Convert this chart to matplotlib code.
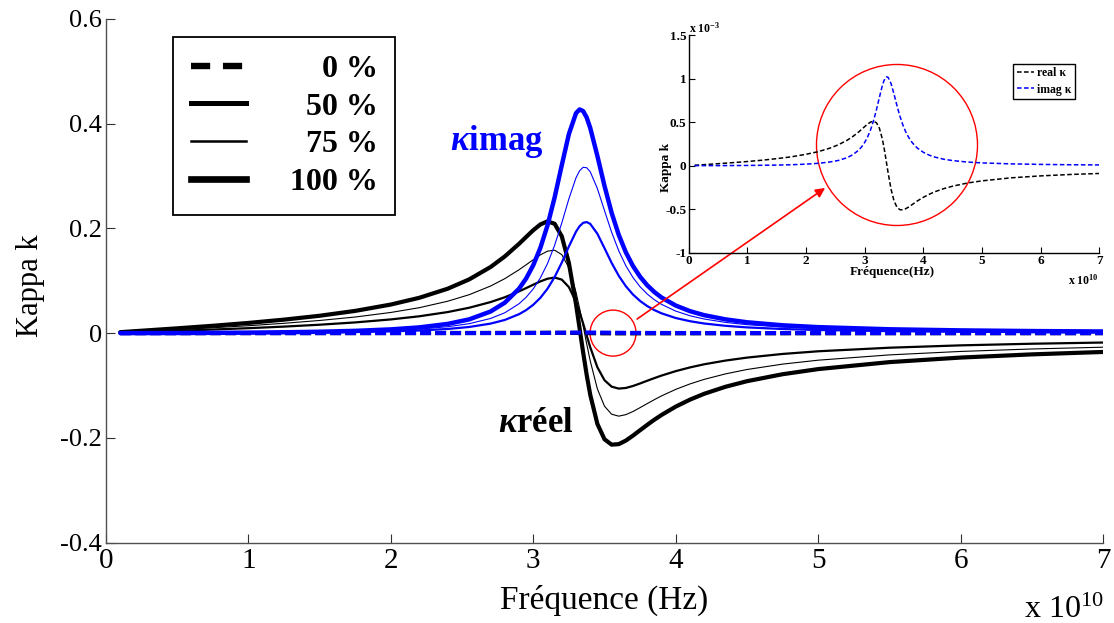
import matplotlib
matplotlib.use('Agg')
import matplotlib.pyplot as plt
from matplotlib.lines import Line2D
from matplotlib.patches import Ellipse

plt.rcParams['font.family'] = ['Liberation Serif', 'DejaVu Serif']
plt.rcParams['mathtext.fontset'] = 'custom'
plt.rcParams['mathtext.rm'] = 'Liberation Serif'
plt.rcParams['mathtext.it'] = 'Liberation Serif:italic:bold'
plt.rcParams['mathtext.bf'] = 'Liberation Serif:bold'

# ---------------- data (frequency in units of 1e10 Hz) ----------------
freq = [0.1, 0.5, 0.75, 1.0, 1.25, 1.5, 1.75, 2.0, 2.2, 2.4, 2.55, 2.7, 2.8, 2.9,
        2.95, 3.0, 3.05, 3.1, 3.15, 3.2, 3.25, 3.3, 3.325, 3.35, 3.375, 3.4, 3.45,
        3.5, 3.55, 3.6, 3.65, 3.7, 3.75, 3.8, 3.85, 3.9, 4.0, 4.1, 4.2, 4.35, 4.5,
        4.75, 5.0, 5.5, 6.0, 6.5, 7.0]

# 0 % (values in units of 1e-3)
re0 = [0.004, 0.022, 0.034, 0.047, 0.062, 0.080, 0.101, 0.130, 0.159, 0.199, 0.239,
       0.291, 0.335, 0.388, 0.418, 0.448, 0.477, 0.500, 0.510, 0.493, 0.432, 0.309,
       0.224, 0.126, 0.021, -0.084, -0.272, -0.404, -0.477, -0.506, -0.508, -0.495,
       -0.475, -0.452, -0.428, -0.405, -0.364, -0.329, -0.299, -0.264, -0.236,
       -0.200, -0.175, -0.140, -0.118, -0.102, -0.090]
im0 = [0.000, 0.000, 0.001, 0.002, 0.004, 0.006, 0.010, 0.017, 0.026, 0.041, 0.059,
       0.091, 0.126, 0.179, 0.217, 0.266, 0.329, 0.410, 0.513, 0.640, 0.781, 0.916,
       0.968, 1.004, 1.020, 1.013, 0.942, 0.822, 0.690, 0.570, 0.469, 0.388, 0.324,
       0.273, 0.233, 0.200, 0.153, 0.120, 0.097, 0.073, 0.058, 0.041, 0.031, 0.020,
       0.014, 0.010, 0.008]

# 50 %
re50 = [0.0009, 0.0044, 0.0068, 0.0094, 0.0124, 0.0160, 0.0204, 0.0261, 0.0321,
        0.0402, 0.0484, 0.0592, 0.0684, 0.0796, 0.0859, 0.0924, 0.0987, 0.1038,
        0.1060, 0.1021, 0.0878, 0.0596, 0.0402, 0.0184, -0.0046, -0.0271, -0.0652,
        -0.0899, -0.1022, -0.1059, -0.1047, -0.1009, -0.0961, -0.0909, -0.0859,
        -0.0811, -0.0726, -0.0655, -0.0595, -0.0524, -0.0468, -0.0398, -0.0347,
        -0.0279, -0.0234, -0.0203, -0.0180]
im50 = [0.0000, 0.0001, 0.0002, 0.0004, 0.0007, 0.0012, 0.0020, 0.0033, 0.0050,
        0.0079, 0.0117, 0.0181, 0.0251, 0.0361, 0.0439, 0.0541, 0.0674, 0.0848,
        0.1071, 0.1345, 0.1653, 0.1936, 0.2040, 0.2104, 0.2119, 0.2084, 0.1896,
        0.1621, 0.1340, 0.1094, 0.0894, 0.0736, 0.0613, 0.0516, 0.0439, 0.0378,
        0.0288, 0.0227, 0.0183, 0.0139, 0.0109, 0.0078, 0.0059, 0.0037, 0.0026,
        0.0020, 0.0015]

# 75 %
re75 = [0.0013, 0.0066, 0.0102, 0.0141, 0.0187, 0.0241, 0.0307, 0.0394, 0.0485,
        0.0609, 0.0733, 0.0898, 0.1039, 0.1209, 0.1304, 0.1401, 0.1493, 0.1564,
        0.1582, 0.1498, 0.1247, 0.0780, 0.0474, 0.0138, -0.0205, -0.0532, -0.1065,
        -0.1395, -0.1548, -0.1585, -0.1556, -0.1496, -0.1422, -0.1345, -0.1270,
        -0.1199, -0.1074, -0.0970, -0.0883, -0.0778, -0.0695, -0.0592, -0.0517,
        -0.0416, -0.0350, -0.0303, -0.0269]
im75 = [0.0000, 0.0001, 0.0003, 0.0006, 0.0011, 0.0018, 0.0030, 0.0050, 0.0076,
        0.0122, 0.0180, 0.0279, 0.0388, 0.0560, 0.0684, 0.0845, 0.1055, 0.1328,
        0.1677, 0.2101, 0.2563, 0.2964, 0.3097, 0.3164, 0.3156, 0.3078, 0.2758,
        0.2338, 0.1925, 0.1571, 0.1285, 0.1060, 0.0884, 0.0746, 0.0637, 0.0549,
        0.0420, 0.0331, 0.0269, 0.0204, 0.0161, 0.0115, 0.0087, 0.0055, 0.0039,
        0.0029, 0.0023]

# 100 %
re100 = [0.0018, 0.0091, 0.0140, 0.0194, 0.0257, 0.0331, 0.0424, 0.0545, 0.0674,
         0.0848, 0.1025, 0.1261, 0.1463, 0.1704, 0.1835, 0.1964, 0.2074, 0.2133,
         0.2086, 0.1848, 0.1338, 0.0550, 0.0093, -0.0367, -0.0800, -0.1179, -0.1733,
         -0.2026, -0.2129, -0.2119, -0.2051, -0.1956, -0.1853, -0.1751, -0.1653,
         -0.1563, -0.1403, -0.1270, -0.1158, -0.1024, -0.0918, -0.0785, -0.0687,
         -0.0554, -0.0467, -0.0406, -0.0360]
im100 = [0.0000, 0.0002, 0.0005, 0.0009, 0.0016, 0.0026, 0.0043, 0.0071, 0.0109,
         0.0176, 0.0262, 0.0412, 0.0580, 0.0848, 0.1043, 0.1297, 0.1629, 0.2057,
         0.2591, 0.3204, 0.3799, 0.4197, 0.4268, 0.4237, 0.4114, 0.3914, 0.3381,
         0.2809, 0.2296, 0.1875, 0.1541, 0.1280, 0.1075, 0.0913, 0.0784, 0.0680,
         0.0526, 0.0419, 0.0342, 0.0262, 0.0207, 0.0149, 0.0114, 0.0073, 0.0052,
         0.0039, 0.0031]

legend_labels = ['\u2007\u20070 %', '\u200750 %', '\u200775 %', '100 %']
x_ticks = [0, 1, 2, 3, 4, 5, 6, 7]
x_tick_labels = ['0', '1', '2', '3', '4', '5', '6', '7']
y_ticks = [-0.4, -0.2, 0, 0.2, 0.4, 0.6]
y_tick_labels = ['-0.4', '-0.2', '0', '0.2', '0.4', '0.6']
inset_y_ticks = [-1, -0.5, 0, 0.5, 1, 1.5]
inset_y_tick_labels = ['-1', '-0.5', '0', '0.5', '1', '1.5']

BLUE = '#0000FF'
W, H = 1114, 623

fig = plt.figure(figsize=(W / 100, H / 100), dpi=100)
ax = fig.add_axes([106 / W, 1 - 542.7 / H, 997 / W, 524 / H])

dash0 = (0, (2.6, 1.0))
kw = dict(solid_joinstyle='round', solid_capstyle='round')
ax.plot(freq, [v * 1e-3 for v in re0], color='black', lw=3.0, ls=dash0)
ax.plot(freq, re50, color='black', lw=1.6, **kw)
ax.plot(freq, re75, color='black', lw=0.8, **kw)
ax.plot(freq, re100, color='black', lw=3.0, **kw)
ax.plot(freq, [v * 1e-3 for v in im0], color=BLUE, lw=3.0, ls=dash0)
ax.plot(freq, im50, color=BLUE, lw=1.6, **kw)
ax.plot(freq, im75, color=BLUE, lw=0.8, **kw)
ax.plot(freq, im100, color=BLUE, lw=3.2, **kw)

ax.set_xlim(0, 7)
ax.set_ylim(-0.4, 0.6)
ax.set_xticks(x_ticks)
ax.set_xticklabels(x_tick_labels)
ax.set_yticks(y_ticks)
ax.set_yticklabels(y_tick_labels)
for s in ['top', 'right']:
    ax.spines[s].set_visible(False)
for s in ['left', 'bottom']:
    ax.spines[s].set_color('#505050')
    ax.spines[s].set_linewidth(1.0)
ax.tick_params(axis='both', direction='in', length=6.5, width=0.8, color='#303030')
ax.tick_params(axis='x', labelsize=21, pad=4)
ax.tick_params(axis='y', labelsize=19, pad=3)

ax.set_xlabel('Fréquence (Hz)', fontsize=24)
ax.xaxis.set_label_coords(0.5, -0.080)
ax.set_ylabel('Kappa k', fontsize=22)
ax.yaxis.set_label_coords(-0.061, 0.49)

fig.text(1024 / W, 1 - 618 / H, r'x 10$^{10}$', fontsize=23, va='baseline', ha='left')

# legend
handles = [
    Line2D([], [], color='black', lw=4.6, ls=(0, (3.0, 2.0))),
    Line2D([], [], color='black', lw=3.6),
    Line2D([], [], color='black', lw=1.8),
    Line2D([], [], color='black', lw=4.8),
]
leg = ax.legend(handles, legend_labels, loc='upper left',
                bbox_to_anchor=((173 - 106) / 997, (542.7 - 37) / 524),
                borderaxespad=0, frameon=True, fancybox=False, framealpha=1,
                edgecolor='black', prop={'weight': 'bold', 'size': 23},
                handlelength=1.75, handletextpad=1.35, labelspacing=0.26,
                borderpad=0.55)
leg.get_frame().set_linewidth(1.3)

# curve annotations
ax.text(2.415, 0.349, r'$\kappa$imag', color=BLUE, fontsize=25, fontweight='bold')
ax.text(2.753, -0.189, r'$\kappa$réel', color='black', fontsize=25, fontweight='bold')

# small red circle + arrow
ax.add_patch(Ellipse((3.56, 0.0), 0.323, 0.0878, fill=False, ec='red', lw=1.0))
ax.annotate('', xy=(5.049, 0.277), xytext=(3.729, 0.0269),
            arrowprops=dict(arrowstyle='-|>', color='red', lw=1.2,
                            mutation_scale=14, shrinkA=0, shrinkB=0),
            annotation_clip=False)

# ---------------- inset ----------------
axi = fig.add_axes([688.7 / W, 1 - 252.7 / H, 410.6 / W, 217.7 / H])
axi.set_facecolor('none')
dsh = (0, (3.0, 1.6))
axi.plot(freq, re0, color='black', lw=1.1, ls=dsh, label='real κ')
axi.plot(freq, im0, color=BLUE, lw=1.1, ls=dsh, label='imag κ')
axi.set_xlim(0, 7)
axi.set_ylim(-1, 1.5)
axi.set_xticks(x_ticks)
axi.set_xticklabels(x_tick_labels)
axi.set_yticks(inset_y_ticks)
axi.set_yticklabels(inset_y_tick_labels)
for s in ['top', 'right']:
    axi.spines[s].set_visible(False)
for s in ['left', 'bottom']:
    axi.spines[s].set_linewidth(1.0)
axi.tick_params(axis='both', direction='in', length=4, width=0.8, labelsize=9.5, pad=1.5)
for lab in axi.get_xticklabels() + axi.get_yticklabels():
    lab.set_fontweight('bold')
axi.set_xlabel('Fréquence(Hz)', fontsize=9.5, fontweight='bold')
axi.xaxis.set_label_coords(0.497, -0.06)
axi.set_ylabel('Kappa k', fontsize=9.5, fontweight='bold')
axi.yaxis.set_label_coords(-0.041, 0.39)
axi.add_patch(Ellipse((3.551, 0.237), 2.745, 1.849, fill=False, ec='red', lw=1.0))
li = axi.legend(loc='upper left', bbox_to_anchor=(0.79, 0.867), borderaxespad=0,
                frameon=True, fancybox=False, framealpha=1, edgecolor='black',
                prop={'weight': 'bold', 'size': 8.5}, handlelength=1.5,
                handletextpad=0.2, labelspacing=0.35, borderpad=0.3)
li.get_frame().set_linewidth(1.0)

fig.text(689 / W, 1 - 33 / H, r'x 10$^{\mathbf{-3}}$', fontsize=8.5, fontweight='bold',
         va='baseline', ha='left')
fig.text(1068 / W, 1 - 285 / H, r'x 10$^{\mathbf{10}}$', fontsize=8.5, fontweight='bold',
         va='baseline', ha='left')

fig.savefig('out.png', dpi=100)
